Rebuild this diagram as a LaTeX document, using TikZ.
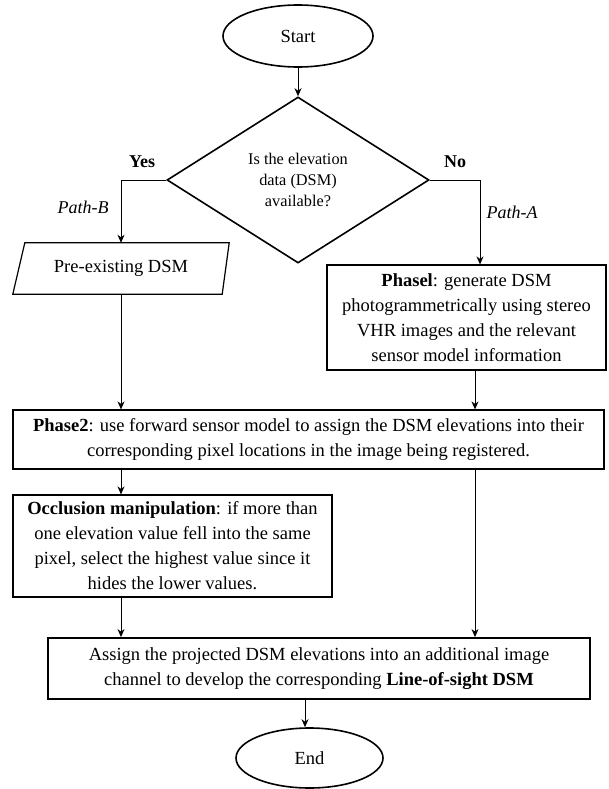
\documentclass[tikz,border=0pt]{standalone}
\usepackage{fontspec}
\setmainfont{Liberation Serif}
\usetikzlibrary{shapes.geometric,arrows.meta}
\begin{document}
\begin{tikzpicture}[x=1pt,y=-1pt,
  txt/.style={font=\fontsize{18.5}{25}\selectfont, align=center, inner sep=0pt},
  box/.style={txt, draw, line width=1.2pt, rectangle},
  oval/.style={txt, draw, ellipse, line width=1.6pt},
  arrow/.style={line width=0.9pt, -{Stealth[length=8pt,width=7pt,inset=2.5pt]}},
  lbl/.style={inner sep=0pt}]
\useasboundingbox (0,0) rectangle (608,789);

% terminals
\node[oval, minimum width=150pt, minimum height=62pt] (start) at (298,36) {Start};
\node[oval, minimum width=147pt, minimum height=60pt] (end) at (309.5,758) {End};

% decision
\node[draw, diamond, line width=1.6pt, minimum width=262pt, minimum height=166pt,
      aspect=1.58, inner sep=0pt, align=center,
      font=\fontsize{16.3}{21}\selectfont] (dec) at (298,180)
  {Is the elevation\\data (DSM)\\available?};

% input data (parallelogram outline drawn around a plain node)
\node[txt, minimum width=216pt, minimum height=51pt] (pre) at (121,268.5) {Pre-existing DSM};
\draw[line width=1.2pt] ([xshift=12pt]pre.north west) -- (pre.north east)
  -- ([xshift=-7pt]pre.south east) -- (pre.south west) -- cycle;

% process boxes
\node[box, minimum width=279pt, minimum height=105pt] (phase1) at (466.5,317.5)
  {\textbf{Phasel}: generate DSM\\photogrammetrically using stereo\\VHR images and the relevant\\sensor model information};
\node[box, minimum width=591pt, minimum height=59pt] (phase2) at (308.5,439.5)
  {\textbf{Phase2}: use forward sensor model to assign the DSM elevations into their\\corresponding pixel locations in the image being registered.};
\node[box, minimum width=319pt, minimum height=102pt] (occ) at (172.5,546)
  {\textbf{Occlusion manipulation}: if more than\\one elevation value fell into the same\\pixel, select the highest value since it\\hides the lower values.};
\node[box, line width=1.8pt, minimum width=542pt, minimum height=61pt] (fin) at (319,668.5)
  {Assign the projected DSM elevations into an additional image\\channel to develop the corresponding \textbf{Line-of-sight DSM}};

% column guides
\coordinate (lx) at (pre.south);
\coordinate (rx) at ([xshift=8.5pt]phase1.south);

% connectors
\draw[arrow] (start) -- (dec.north);
\draw[arrow] (dec.west) -| (pre.north);
\draw[arrow] (dec.east) -| ([xshift=13.5pt]phase1.north);
\draw[arrow] (pre.south) -- (phase2.north -| lx);
\draw[arrow] (rx) -- (phase2.north -| rx);
\draw[arrow] (phase2.south -| lx) -- (occ.north -| lx);
\draw[arrow] (occ.south -| lx) -- (fin.north -| lx);
\draw[arrow] (phase2.south -| rx) -- (fin.north -| rx);
\draw[arrow] ([xshift=-4.5pt]end.north |- fin.south) -- ([xshift=-4.5pt]end.north);

% branch labels
\node[lbl, font=\fontsize{18}{20}\selectfont\bfseries] (yes) at (142,162) {Yes};
\node[lbl, font=\fontsize{18}{20}\selectfont\bfseries] (no) at (455,162) {No};
\node[lbl, font=\fontsize{18}{20}\selectfont\itshape] (pathb) at (83,207) {Path-B};
\node[lbl, font=\fontsize{18}{20}\selectfont\itshape] (patha) at (512,212) {Path-A};
\end{tikzpicture}
\end{document}
